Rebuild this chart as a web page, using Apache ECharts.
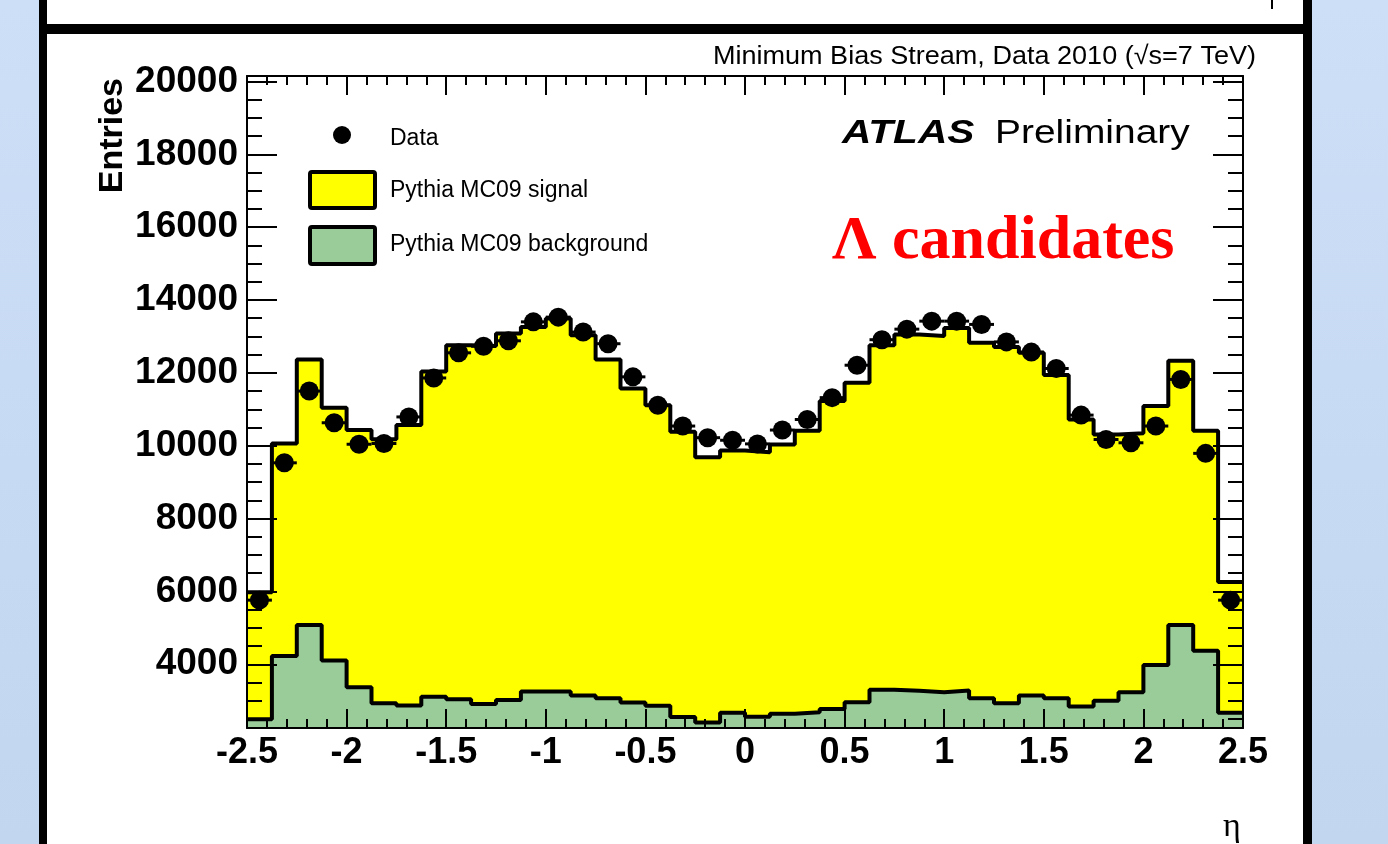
<!DOCTYPE html>
<html>
<head>
<meta charset="utf-8">
<script src="https://cdn.jsdelivr.net/npm/echarts@6/dist/echarts.min.js"></script>
<style>
html,body{margin:0;padding:0;background:#fff;}
#chart{width:1388px;height:844px;}
</style>
</head>
<body>
<div id="chart"></div>
<script>
// Bin edges in eta (40 bins of width 0.125)
const etaEdges = [-2.5,-2.375,-2.25,-2.125,-2,-1.875,-1.75,-1.625,-1.5,-1.375,-1.25,-1.125,-1,-0.875,-0.75,-0.625,-0.5,-0.375,-0.25,-0.125,0,
  0.125,0.25,0.375,0.5,0.625,0.75,0.875,1,1.125,1.25,1.375,1.5,1.625,1.75,1.875,2,2.125,2.25,2.375,2.5];
// Pythia MC09 signal (stacked total: signal+background)
const signalTotal = [5980,10060,12370,11040,10430,10180,10570,12040,12760,12740,13080,13260,13490,13030,12370,11570,11110,10380,9680,9870,
  9820,10030,10410,11230,11730,12760,13050,13010,13230,12830,12710,12550,11940,10720,10310,10340,11090,12330,10410,6260];
// Pythia MC09 background
const background = [2490,4230,5080,4100,3370,2930,2870,3110,3040,2910,3020,3250,3250,3140,3070,2950,2860,2550,2400,2670,
  2560,2640,2680,2770,2960,3300,3270,3230,3280,3070,2930,3140,3070,2840,3000,3230,3980,5080,4370,2670];
// Data
const dataEntries = [5760,9530,11500,10630,10040,10060,10790,11860,12550,12730,12880,13400,13530,13120,12800,11890,11110,10540,10220,10150,
  10050,10430,10720,11320,12210,12910,13200,13420,13420,13330,12850,12570,12120,10840,10170,10080,10540,11820,9790,5760];
// Axis ticks / labels
const yMajorTicks = [4000,6000,8000,10000,12000,14000,16000,18000,20000];
const yMinorTicks = [2500,3000,3500,4500,5000,5500,6500,7000,7500,8500,9000,9500,10500,11000,11500,12500,13000,13500,14500,15000,15500,16500,17000,17500,18500,19000,19500];
const yMin = 2250, yMax = 20150;

function stepData(vals){
  return etaEdges.map((e,i)=>[e, vals[Math.min(i, vals.length-1)]]);
}
const centers = dataEntries.map((v,i)=>[(etaEdges[i]+etaEdges[i+1])/2, v, (etaEdges[i+1]-etaEdges[i])/2]);

const chart = echarts.init(document.getElementById('chart'), null, {renderer:'canvas'});
const F = 'Liberation Sans, Arial, Helvetica, sans-serif';

const tickStyle = {color:'#000', width:2};
function yTickAxis(pos, len, vals, withLine, withLabels){
  return {type:'value', min:yMin, max:yMax, position:pos, z:10,
    axisLine:{show:withLine, onZero:false, lineStyle:{color:'#000', width:2}},
    axisTick:{show:true, inside:true, length:len, customValues:vals, lineStyle:tickStyle},
    axisLabel: withLabels ? {show:true, customValues:vals, margin:9, color:'#000', fontFamily:F, fontWeight:'bold', fontSize:37,
      padding:[7,0,0,0], formatter:v=>String(v)} : {show:false},
    splitLine:{show:false}};
}
function xTickAxis(pos, withLabels){
  return {type:'value', min:-2.5, max:2.5, interval:0.5, position:pos, z:10,
    axisLine:{show:true, onZero:false, lineStyle:{color:'#000', width:2}},
    axisTick:{show:true, inside:true, length:19, lineStyle:tickStyle},
    minorTick:{show:true, splitNumber:5, length:9, lineStyle:{color:'#000', width:2}},
    splitLine:{show:false}, minorSplitLine:{show:false},
    axisLabel: withLabels ? {show:true, margin:7, color:'#000', fontFamily:F, fontWeight:'bold', fontSize:36,
      formatter:v=>String(Math.round(v*10)/10), showMinLabel:true, showMaxLabel:true} : {show:false}};
}

const option = {
  backgroundColor:'#fff',
  animation:false,
  grid:{left:247, right:145, top:76, bottom:116, show:false},
  xAxis:[ xTickAxis('bottom', true), xTickAxis('top', false) ],
  yAxis:[
    yTickAxis('left', 30, yMajorTicks, true, true),
    yTickAxis('left', 15, yMinorTicks, false, false),
    yTickAxis('right', 30, yMajorTicks, true, false),
    yTickAxis('right', 15, yMinorTicks, false, false)
  ],
  series:[
    {name:'Pythia MC09 signal', type:'line', step:'end', data:stepData(signalTotal), showSymbol:false, z:2,
     lineStyle:{color:'#000', width:4}, areaStyle:{color:'#ffff00', opacity:1, origin:'start'}},
    {name:'Pythia MC09 background', type:'line', step:'end', data:stepData(background), showSymbol:false, z:3,
     lineStyle:{color:'#000', width:4}, areaStyle:{color:'#99cc99', opacity:1, origin:'start'}},
    {name:'Data errors', type:'custom', z:4, data:centers,
     renderItem:function(params, api){
       const x = api.value(0), y = api.value(1), hw = api.value(2);
       const err = Math.sqrt(y);
       const pL = api.coord([x-hw, y]), pR = api.coord([x+hw, y]);
       const pT = api.coord([x, y+err]), pB = api.coord([x, y-err]);
       return {type:'group', children:[
         {type:'line', shape:{x1:pL[0], y1:pL[1], x2:pR[0], y2:pR[1]}, style:{stroke:'#000', lineWidth:3}},
         {type:'line', shape:{x1:pT[0], y1:pT[1], x2:pB[0], y2:pB[1]}, style:{stroke:'#000', lineWidth:3}}
       ]};
     }},
    {name:'Data', type:'scatter', z:5, symbol:'circle', symbolSize:19,
     data:centers.map(c=>[c[0], c[1]]), itemStyle:{color:'#000', opacity:1}}
  ],
  graphic:[
    // slide decorations
    {type:'rect', shape:{x:0, y:0, width:39, height:844}, style:{fill:new echarts.graphic.LinearGradient(0,0,0,1,[{offset:0,color:'#cddff7'},{offset:1,color:'#c2d6f0'}])}, z:0},
    {type:'rect', shape:{x:1312, y:0, width:76, height:844}, style:{fill:new echarts.graphic.LinearGradient(0,0,0,1,[{offset:0,color:'#cddff7'},{offset:1,color:'#c2d6f0'}])}, z:0},
    {type:'rect', shape:{x:39, y:0, width:8, height:844}, style:{fill:'#000'}, z:0},
    {type:'rect', shape:{x:1303, y:0, width:9, height:844}, style:{fill:'#000'}, z:0},
    {type:'rect', shape:{x:39, y:24, width:1273, height:10}, style:{fill:'#000'}, z:0},
    {type:'rect', shape:{x:1271, y:0, width:2, height:9}, style:{fill:'#000'}, z:0},
    // titles
    {type:'text', x:1256, y:57, z:20, scaleX:1.04, style:{text:'Minimum Bias Stream, Data 2010 (√s=7 TeV)', font:'26px '+F, fill:'#000', align:'right', verticalAlign:'middle'}},
    {type:'text', x:113, y:78, rotation:Math.PI/2, z:20, style:{text:'Entries', font:'bold 34px '+F, fill:'#000', align:'right', verticalAlign:'middle'}},
    {type:'text', x:1232, y:827, z:20, style:{text:'η', font:'34px Liberation Serif, serif', fill:'#000', align:'center', verticalAlign:'middle'}},
    {type:'text', x:842, y:134, z:20, scaleX:1.23, style:{text:'ATLAS', font:'italic bold 33px '+F, fill:'#000', align:'left', verticalAlign:'middle'}},
    {type:'text', x:995, y:134, z:20, scaleX:1.18, style:{text:'Preliminary', font:'33px '+F, fill:'#000', align:'left', verticalAlign:'middle'}},
    {type:'text', x:832, y:242, z:20, style:{text:'Λ candidates', font:'bold 62px Liberation Serif, Times New Roman, serif', fill:'#ff0000', align:'left', verticalAlign:'middle'}},
    // legend
    {type:'circle', shape:{cx:342, cy:135, r:9}, style:{fill:'#000'}, z:20},
    {type:'text', x:390, y:139, z:20, style:{text:'Data', font:'23px '+F, fill:'#000', align:'left', verticalAlign:'middle'}},
    {type:'rect', shape:{x:310, y:172, width:65, height:36, r:2}, style:{fill:'#ffff00', stroke:'#000', lineWidth:4}, z:20},
    {type:'text', x:390, y:191, z:20, style:{text:'Pythia MC09 signal', font:'23px '+F, fill:'#000', align:'left', verticalAlign:'middle'}},
    {type:'rect', shape:{x:310, y:227, width:65, height:37, r:2}, style:{fill:'#99cc99', stroke:'#000', lineWidth:4}, z:20},
    {type:'text', x:390, y:245, z:20, style:{text:'Pythia MC09 background', font:'23px '+F, fill:'#000', align:'left', verticalAlign:'middle'}}
  ]
};
chart.setOption(option);
</script>
</body>
</html>
